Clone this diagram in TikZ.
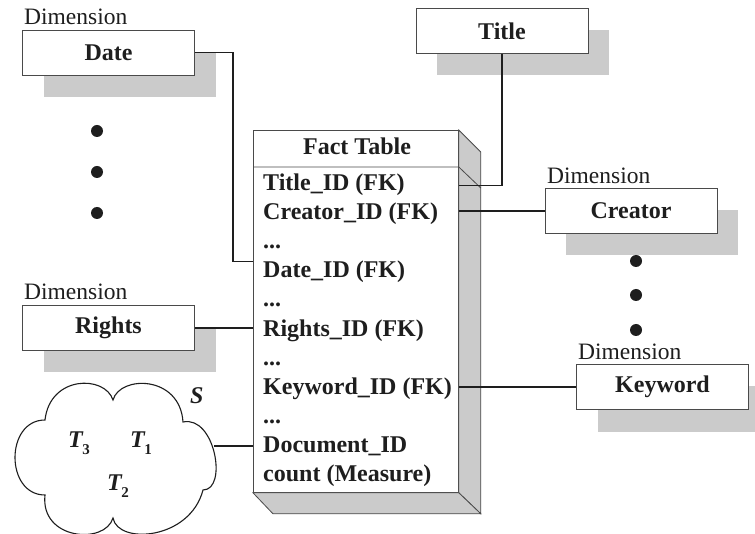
\documentclass[tikz,border=0pt]{standalone}
\usepackage{fontspec}
\setmainfont{Liberation Serif}
\usetikzlibrary{shadows}
\definecolor{shade}{HTML}{CBCBCB}
\definecolor{edge}{HTML}{4A4A4A}
\definecolor{ink}{HTML}{1E1E1E}
\newcommand{\tsub}[2]{#1\kern-0.5pt\raisebox{-7pt}{\fontsize{15}{15}\selectfont\upshape #2}}
\begin{document}
\begin{tikzpicture}[x=1pt,y=-1pt,
  dimbox/.style={draw=edge, line width=0.8pt, fill=white,
    minimum width=172pt, minimum height=45pt, inner sep=0pt, text=ink,
    font=\fontsize{24}{28}\selectfont\bfseries,
    drop shadow={shadow xshift=21pt, shadow yshift=-22pt, fill=shade, opacity=1}},
  dimlabel/.style={anchor=base west, inner sep=0pt, text=ink,
    font=\fontsize{23.5}{28}\selectfont},
  row/.style={anchor=base west, inner sep=0pt, text=ink,
    font=\fontsize{24}{28}\selectfont\bfseries},
  cloudtxt/.style={anchor=base west, inner sep=0pt, text=ink,
    font=\fontsize{24}{28}\selectfont\bfseries\itshape},
  link/.style={draw=ink, line width=1.25pt},
  face/.style={fill=shade, draw=edge, line width=0.8pt},
  bullet/.style={circle, fill=ink, inner sep=0pt, minimum size=12pt}]

\clip (0,0) rectangle (755,534);
\fill[white] (0,0) rectangle (755,534);

% dimension tables
\node[dimbox] (date) at (108.5,52.5) {Date};
\node[dimbox] (rights) at (108.5,328) {Rights};
\node[dimbox] (title) at (502,31) {Title};
\node[dimbox] (creator) at (631,211) {Creator};
\node[dimbox] (keyword) at (662.5,387) {Keyword};

\node[dimlabel] (dl1) at (24,25) {Dimension};
\node[dimlabel] (dl2) at (24,300) {Dimension};
\node[dimlabel] (dl3) at (547,184) {Dimension};
\node[dimlabel] (dl4) at (578,360) {Dimension};

% omitted dimensions
\node[bullet] (b1) at (97,131) {};
\node[bullet] (b2) at (97,172) {};
\node[bullet] (b3) at (97,213) {};
\node[bullet] (b4) at (636,261) {};
\node[bullet] (b5) at (636,295) {};
\node[bullet] (b6) at (636,330) {};

% fact table as a box with depth
\node[draw=edge, fill=white, line width=0.8pt, minimum width=205pt,
  minimum height=362pt, anchor=north west, inner sep=0pt] (fact) at (253,130) {};
\filldraw[face] (fact.north east) -- ++(22,22)
  -- ([shift={(22,21)}]fact.south east) -- (fact.south east) -- cycle;
\filldraw[face] (fact.south west) -- ++(20,21)
  -- ([shift={(22,21)}]fact.south east) -- (fact.south east) -- cycle;
\draw[edge, line width=0.8pt] ([yshift=-37pt]fact.north west)
  -- ([yshift=-37pt]fact.north east) -- ++(22,21);

\node[row, anchor=base] (fhead) at (357,155) {Fact Table};
\node[row] (r1) at (263,191) {Title\_ID (FK)};
\node[row] (r2) at (263,220) {Creator\_ID (FK)};
\node[row] (r3) at (263,249) {...};
\node[row] (r4) at (263,278) {Date\_ID (FK)};
\node[row] (r5) at (263,307) {...};
\node[row] (r6) at (263,337) {Rights\_ID (FK)};
\node[row] (r7) at (263,366) {...};
\node[row] (r8) at (263,395) {Keyword\_ID (FK)};
\node[row] (r9) at (263,424) {...};
\node[row] (r10) at (263,452) {Document\_ID};
\node[row] (r11) at (263,481) {count (Measure)};

% the document set as a cloud
\draw[draw=ink, line width=1.1pt, fill=white]
  (45,420) .. controls (50,375) and (105,375) .. (113,400)
  .. controls (120,375) and (180,375) .. (183,422)
  .. controls (215,415) and (228,490) .. (203,490)
  .. controls (190,540) and (118,545) .. (113,518)
  .. controls (105,545) and (40,540) .. (45,495)
  .. controls (5,495) and (5,420) .. (45,420) -- cycle;
\coordinate (cloudE) at (214,446);
\node[cloudtxt] (s) at (190,403) {S};
\node[cloudtxt] (t3) at (68,447) {\tsub{T}{3}};
\node[cloudtxt] (t1) at (130,447) {\tsub{T}{1}};
\node[cloudtxt] (t2) at (107,490) {\tsub{T}{2}};

% foreign key links
\draw[link] (title.south) |- (fact.east |- r1.center);
\draw[link] (creator.west) -- (creator.west -| fact.east);
\draw[link] (keyword.west) -- (keyword.west -| fact.east);
\draw[link] (date.east) -- ++(38,0) |- (fact.west |- r4.north);
\draw[link] (rights.east) -- (rights.east -| fact.west);
\draw[link] (cloudE) -- (cloudE -| fact.west);
\end{tikzpicture}
\end{document}
